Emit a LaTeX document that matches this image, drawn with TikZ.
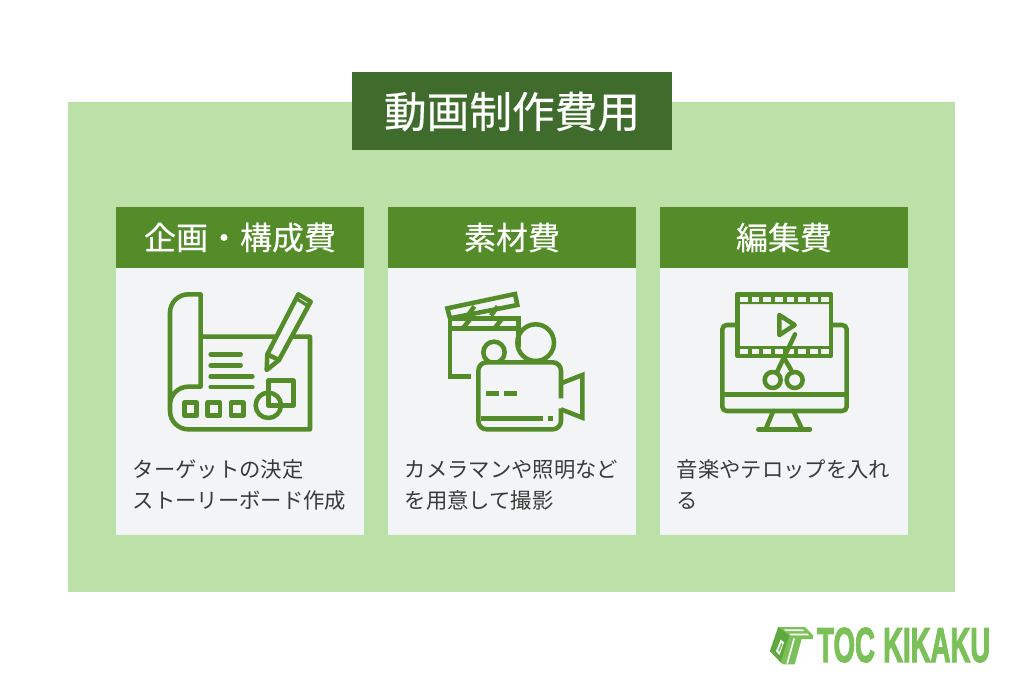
\documentclass[tikz,border=0pt]{standalone}
\usepackage{fontspec}
\usepackage{graphicx}
\setmainfont{Noto Sans CJK JP}
\newfontfamily\medfont[FakeBold=0.35]{Noto Sans CJK JP}
\newfontfamily\logofont[FakeBold=3]{Liberation Sans Bold}
\definecolor{pagegreen}{HTML}{BBE1A8}
\definecolor{titlegreen}{HTML}{3F6B2C}
\definecolor{headgreen}{HTML}{548C29}
\definecolor{cardbg}{HTML}{F3F4F6}
\definecolor{bodytext}{HTML}{3A3A3A}
\definecolor{logogreen}{HTML}{7CC05A}
\definecolor{logodark}{HTML}{5FA83F}
\tikzset{
  px/.style={x=0.75pt,y=-0.75pt},
  zoomed/.style={x=0.25pt,y=-0.25pt},
  headtext/.style={text=white,font=\medfont\fontsize{24}{24}\selectfont,anchor=center,inner sep=0pt},
  titletext/.style={text=white,font=\medfont\fontsize{32}{32}\selectfont,anchor=center,inner sep=0pt},
  bodylabel/.style={text=bodytext,font=\fontsize{16}{16}\selectfont,anchor=base west,inner sep=0pt},
  icon/.style={draw=headgreen,line width=3.4pt,line join=round,line cap=round},
  iconm/.style={draw=headgreen,line width=3.4pt,line join=miter,line cap=butt},
}
\begin{document}
\begin{tikzpicture}[px]
\useasboundingbox (0,0) rectangle (1024,682);
\fill[white] (0,0) rectangle (1024,682);
\fill[pagegreen] (68,102) rectangle (955,592);
\fill[titlegreen] (352,72) rectangle (672,150);
\node[titletext] (title) at (512,111.5) {動画制作費用};
% cards
\foreach \x/\n in {116.2/a,388.2/b,660.2/c}{
  \fill[cardbg] (\x,207) rectangle +(248,328);
  \fill[headgreen] (\x,207) rectangle +(248,61);
}
\node[headtext] (heada) at (240,237.5) {企画・構成費};
\node[headtext] (headb) at (512,237.5) {素材費};
\node[headtext] (headc) at (784,237.5) {編集費};
\node[bodylabel] (a1) at (132.5,477) {ターゲットの決定};
\node[bodylabel] (a2) at (132.5,508) {ストーリーボード作成};
\node[bodylabel] (b1) at (404.5,477) {カメラマンや照明など};
\node[bodylabel] (b2) at (404.5,508) {を用意して撮影};
\node[bodylabel] (c1) at (676.5,477) {音楽やテロップを入れ};
\node[bodylabel] (c2) at (676.5,508) {る};
% icon 1
\begin{scope}[shift={(130,275)},zoomed]
  \draw[icon] (212,185) -- (540,185) -- (540,463) -- (175,463) arc[start angle=90,end angle=180,radius=55] -- (120,113) arc[start angle=180,end angle=270,radius=55] -- (212,58) -- (212,335) -- (175,335) arc[start angle=270,end angle=180,radius=55];
  \foreach \yy/\xx in {238/332,271/332,304/367,336/367}{\draw[icon] (242,\yy) -- (\xx,\yy);}
  \foreach \xx in {163,233,303}{\draw[icon] (\xx,383) rectangle +(37,39);}
  \draw[icon] (415,317) rectangle (490,392);
  \draw[icon] (415,391) circle[radius=38];
  \draw[icon,fill=cardbg] (412,238) -- (505,58) -- (542,80) -- (447,255) -- (410,285) -- cycle;
  \draw[icon] (412,238) -- (447,255);
  \draw[icon,line width=2.4pt] (497,70) -- (530,90);
\end{scope}
% icon 2
\begin{scope}[shift={(420,275)},zoomed]
  \draw[iconm] (82,100) -- (285,57) -- (292,90) -- (90,130) -- cycle;
  \draw[iconm] (152,305) -- (90,305) -- (90,130) -- (295,130) -- (295,215);
  \draw[iconm] (90,160) -- (295,160);
  \foreach \xx in {130,225}{\draw[iconm] (\xx,158) -- +(20,-25);}
  \foreach \xx in {143,213}{\draw[iconm] (\xx,122) -- +(20,-28);}
  \draw[iconm] (347,203) circle[radius=55];
  \draw[iconm] (222,232) circle[radius=32];
  \draw[iconm,fill=cardbg] (423,370) -- (423,287) arc[start angle=0,end angle=-90,radius=25] -- (200,262) arc[start angle=270,end angle=180,radius=25] -- (175,438) arc[start angle=180,end angle=90,radius=25] -- (398,463) arc[start angle=90,end angle=0,radius=25] -- (423,400);
  \draw[iconm] (423,325) -- (487,300) -- (487,428) -- (423,403);
  \draw[iconm,line width=3.5pt] (198,355) -- (238,355) (252,355) -- (292,355);
  \draw[iconm] (183,431) -- (368,431) (384,431) -- (400,431);
\end{scope}
% icon 3
\begin{scope}[shift={(690,275)},zoomed]
  \draw[icon] (143,150) -- (110,150) arc[start angle=270,end angle=180,radius=13] -- (97,395) arc[start angle=180,end angle=90,radius=13] -- (457,408) arc[start angle=90,end angle=0,radius=13] -- (470,163) arc[start angle=0,end angle=-90,radius=13] -- (423,150);
  \draw[icon] (97,358) -- (470,358);
  \draw[icon] (250,408) -- (228,460) (310,408) -- (335,460);
  \draw[icon] (205,463) -- (360,463);
  \draw[icon,fill=cardbg] (143,57) rectangle (423,243);
  \fill[headgreen] (143,57) rectangle (423,87) (143,213) rectangle (423,243);
  \foreach \xx in {150,185,220,255,290,325,360,394}{
    \fill[cardbg] (\xx,65) rectangle +(23,15);
    \fill[cardbg] (\xx,221) rectangle +(23,15);
  }
  \draw[icon] (268,120) -- (314,150) -- (268,180) -- cycle;
  \draw[icon] (315,178) -- (260,293);
  \draw[icon] (280,245) -- (308,293);
  \draw[icon] (248,315) circle[radius=24];
  \draw[icon] (314,315) circle[radius=24];
\end{scope}
% logo mark
\begin{scope}[shift={(760,615)},zoomed]
  \fill[logogreen] (55,36) -- (135,36) -- (160,62) -- (158,72) -- (125,72) -- (104,148) -- (70,148) -- (62,142) -- (30,108) -- cycle;
  \fill[logodark] (55,36) -- (88,62) -- (62,142) -- (30,108) -- cycle;
  \fill[white] (62,74) -- (72,82) -- (58,120) -- (48,108) -- cycle;
  \fill[logogreen] (64,84) -- (68,87) -- (58,110) -- (54,106) -- cycle;
  \fill[white] (72,43) -- (128,43) -- (132,48) -- (77,48) -- cycle;
  \fill[white] (88,56) -- (143,56) -- (147,61) -- (92,61) -- cycle;
  \fill[white] (100,70) -- (105,70) -- (84,146) -- (79,146) -- cycle;
\end{scope}
\node[anchor=west,inner sep=0pt,text=logogreen] (logo) at (817,645) {\resizebox{129.75pt}{25.5pt}{\logofont TOC\hspace{.3em}KIKAKU}};
\end{tikzpicture}
\end{document}
